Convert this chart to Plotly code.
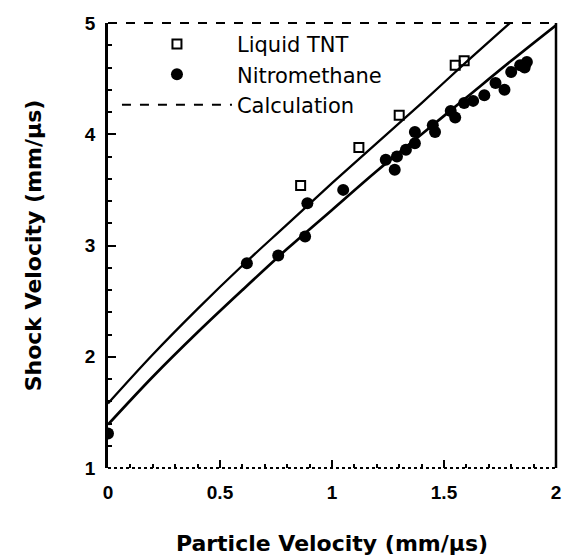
import plotly.graph_objects as go

# Liquid TNT data (open squares)
tnt_up = [0.86, 1.12, 1.30, 1.55, 1.59]
tnt_us = [3.54, 3.88, 4.17, 4.62, 4.66]

# Nitromethane data (filled circles)
nm_up = [0.0, 0.62, 0.76, 0.88, 0.89, 1.05, 1.24, 1.28, 1.29, 1.33, 1.37, 1.37,
         1.45, 1.46, 1.53, 1.55, 1.59, 1.63, 1.68, 1.73, 1.77, 1.80, 1.84, 1.86, 1.87]
nm_us = [1.31, 2.84, 2.91, 3.08, 3.38, 3.50, 3.77, 3.68, 3.80, 3.86, 3.92, 4.02,
         4.08, 4.02, 4.21, 4.15, 4.28, 4.30, 4.35, 4.46, 4.40, 4.56, 4.62, 4.60, 4.65]

# Calculated Hugoniots
calc_up = [0.0, 0.2, 0.4, 0.6, 0.8, 1.0, 1.2, 1.4, 1.6, 1.8, 2.0]
calc_tnt_us = [1.58, 2.02, 2.43, 2.82, 3.19, 3.56, 3.92, 4.28, 4.65, 5.01, 5.37]
calc_nm_us = [1.39, 1.82, 2.22, 2.60, 2.97, 3.32, 3.67, 4.00, 4.33, 4.66, 4.98]

x_ticks = [0, 0.5, 1, 1.5, 2]
x_ticklabels = ["0", "0.5", "1", "1.5", "2"]
y_ticks = [1, 2, 3, 4, 5]

TICKFONT = "Liberation Sans, Arial, sans-serif"
TEXTFONT = "DejaVu Sans, sans-serif"

fig = go.Figure()

fig.add_trace(go.Scatter(
    x=tnt_up, y=tnt_us, mode="markers", name="Liquid TNT", legendgroup="a",
    marker=dict(symbol="square-open", size=9, color="black", line=dict(width=2, color="black")),
))
fig.add_trace(go.Scatter(
    x=nm_up, y=nm_us, mode="markers", name="Nitromethane", legendgroup="b",
    marker=dict(symbol="circle", size=12, color="black"),
))
fig.add_trace(go.Scatter(
    x=calc_up, y=calc_tnt_us, mode="lines", showlegend=False,
    line=dict(color="black", width=2.3, shape="spline"),
))
fig.add_trace(go.Scatter(
    x=calc_up, y=calc_nm_us, mode="lines", showlegend=False,
    line=dict(color="black", width=2.7, shape="spline"),
))
fig.add_trace(go.Scatter(
    x=[None], y=[None], mode="lines", name="Calculation", legendgroup="c",
    line=dict(color="black", width=2, dash="dash"),
))

fig.update_layout(
    width=562, height=556,
    margin=dict(l=108, r=6, t=23, b=88),
    paper_bgcolor="white", plot_bgcolor="white",
    font=dict(family=TEXTFONT, color="black", size=18),
    legend=dict(
        x=0.02, y=0.998, xanchor="left", yanchor="top",
        bgcolor="rgba(0,0,0,0)", borderwidth=0,
        itemwidth=110, tracegroupgap=0,
        font=dict(family=TEXTFONT, size=21, color="black"),
    ),
    showlegend=True,
    shapes=[
        dict(type="line", xref="paper", yref="paper", x0=0, x1=1, y0=1, y1=1,
             line=dict(color="black", width=2, dash="dash")),
        dict(type="line", xref="paper", yref="paper", x0=1, x1=1, y0=0, y1=1,
             line=dict(color="black", width=2.5)),
        dict(type="line", xref="paper", yref="paper", x0=0, x1=1, y0=0, y1=0,
             line=dict(color="black", width=2, dash="dot")),
    ],
)

fig.update_xaxes(
    range=[0, 2], tickvals=x_ticks, ticktext=x_ticklabels,
    showgrid=False, zeroline=False, automargin=False,
    showline=False,
    ticks="inside", ticklen=8, tickwidth=2, tickcolor="black",
    minor=dict(dtick=0.1, ticks="inside", ticklen=4, tickwidth=2, tickcolor="black"),
    tickfont=dict(family=TICKFONT, size=19, weight="bold"),
    ticklabelstandoff=11,
    title=dict(text="Particle Velocity (mm/μs)",
               font=dict(family=TEXTFONT, size=22, weight="bold"), standoff=33),
)
fig.update_yaxes(
    range=[1, 5], tickvals=y_ticks,
    showgrid=False, zeroline=False, automargin=False,
    showline=True, linecolor="black", linewidth=2.8, mirror=False,
    ticks="inside", ticklen=8, tickwidth=2, tickcolor="black",
    minor=dict(dtick=0.2, ticks="inside", ticklen=4, tickwidth=2, tickcolor="black"),
    tickfont=dict(family=TICKFONT, size=19, weight="bold"),
    ticklabelstandoff=6,
    title=dict(text="Shock Velocity (mm/μs)",
               font=dict(family=TEXTFONT, size=22, weight="bold"), standoff=38),
)

fig.write_html(
    "out.html",
    config={"displayModeBar": False},
    post_script="document.body.style.margin='0';document.body.style.overflow='hidden';",
)
